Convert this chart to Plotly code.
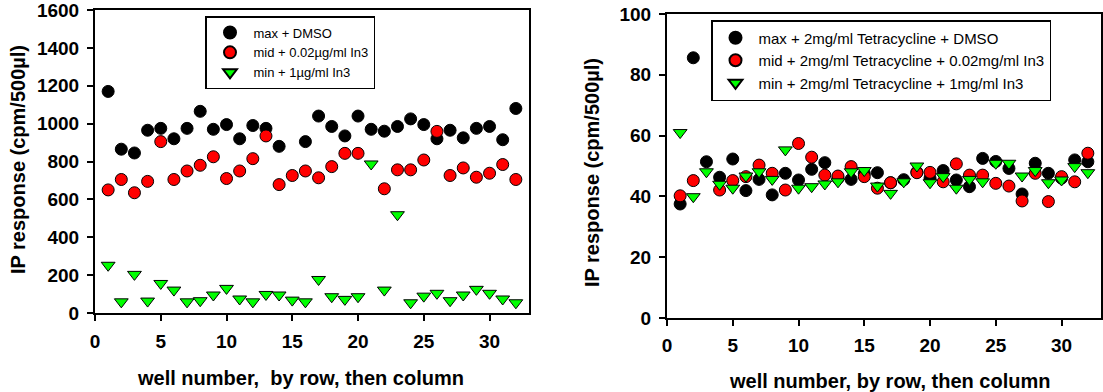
import plotly.graph_objects as go

wells = list(range(1, 33))

# Left panel: IP response (cpm/500µl)
max_dmso = [1170, 865, 845, 965, 975, 920, 975, 1065, 970, 995, 920, 990, 975, 880, None, 905,
            1040, 985, 935, 1040, 970, 960, 985, 1025, 995, 920, 965, 925, 975, 985, 915, 1080]
mid_in3 = [650, 705, 635, 695, 905, 705, 750, 780, 825, 710, 750, 815, 935, 678, 726, 750,
           714, 773, 843, 843, None, 656, 756, 756, 808, 959, 726, 766, 717, 738, 784, 705]
min_in3 = [252, 59, 204, 63, 156, 121, 59, 65, 95, 130, 74, 59, 98, 95, 68, 59,
           177, 86, 72, 86, 787, 121, 519, 54, 89, 104, 65, 95, 125, 104, 74, 54]

# Right panel: with 2mg/ml Tetracycline
max_tet = [37.5, 85.6, 51.4, 46.3, 52.3, 41.9, 45.6, 40.5, 47.6, 45.4, 48.9, 51.1, 46.0, 45.6, 47.5, 47.8,
           44.5, 45.5, 48.0, 46.0, 48.5, 45.4, 43.2, 52.5, 51.5, 49.2, 40.8, 50.9, 47.6, 46.0, 52.0, 51.4]
mid_tet = [40.2, 45.2, None, 42.1, 45.2, 46.5, 50.3, 47.6, 42.1, 57.4, 52.9, 47.0, 46.7, 49.8, 46.5, 42.7,
           44.5, None, 47.8, 47.9, 44.8, 50.7, 47.0, 47.0, 44.3, 43.4, 38.5, 47.6, 38.3, 46.5, 44.8, 54.2]
min_tet = [61.0, 39.9, 48.1, 44.0, 42.7, 46.7, 48.1, 45.6, 55.3, 42.7, 43.2, 44.1, 44.8, 48.1, 48.5, 43.4,
           41.0, 44.8, 50.0, 44.5, 46.5, 42.7, 45.6, 44.8, 50.9, 50.9, 46.7, 48.5, 44.5, 45.4, 49.8, 47.8]

left_names = ["max + DMSO", "mid + 0.02µg/ml In3", "min + 1µg/ml In3"]
right_names = ["max + 2mg/ml Tetracycline + DMSO",
               "mid + 2mg/ml Tetracycline + 0.02mg/ml In3",
               "min + 2mg/ml Tetracycline + 1mg/ml In3"]
x_ticks = [0, 5, 10, 15, 20, 25, 30]
left_yticks = [0, 200, 400, 600, 800, 1000, 1200, 1400, 1600]
right_yticks = [0, 20, 40, 60, 80, 100]
x_title_left = "well number,  by row, then column"
x_title_right = "well number, by row, then column"
y_title = "IP response (cpm/500µl)"

W, H = 1103, 392
FONT = "Liberation Sans, Arial, sans-serif"

styles = [
    dict(symbol="circle", color="#000000"),
    dict(symbol="circle", color="#FF0000"),
    dict(symbol="triangle-down", color="#00FF00"),
]

fig = go.Figure()
for vals, name, st in zip([max_dmso, mid_in3, min_in3], left_names, styles):
    fig.add_trace(go.Scatter(
        x=wells, y=vals, mode="markers", name=name, xaxis="x", yaxis="y",
        marker=dict(symbol=st["symbol"], color=st["color"], size=12,
                    line=dict(color="#000000", width=1)),
        legend="legend"))
for vals, name, st in zip([max_tet, mid_tet, min_tet], right_names, styles):
    fig.add_trace(go.Scatter(
        x=wells, y=vals, mode="markers", name=name, xaxis="x2", yaxis="y2",
        marker=dict(symbol=st["symbol"], color=st["color"], size=12,
                    line=dict(color="#000000", width=1)),
        legend="legend2"))

def px_x(p):
    return p / W

def px_y(p):
    return 1 - p / H

tickfont = dict(family=FONT, size=19, color="#000000", weight="bold")
axis_common = dict(
    showline=True, linecolor="#000000", linewidth=2, mirror=True,
    ticks="outside", ticklen=6, tickwidth=2, tickcolor="#000000",
    showgrid=False, zeroline=False, tickfont=tickfont, automargin=False,
    ticklabeloverflow="allow",
)

fig.update_layout(
    width=W, height=H,
    margin=dict(l=0, r=0, t=0, b=0, pad=0, autoexpand=False),
    paper_bgcolor="#FFFFFF", plot_bgcolor="#FFFFFF",
    font=dict(family=FONT, color="#000000"),
    xaxis=dict(domain=[px_x(95), px_x(529)], range=[0, 33], tickvals=x_ticks,
               anchor="y", ticklabelstandoff=4, **axis_common),
    yaxis=dict(domain=[px_y(313), px_y(10)], range=[0, 1600], tickvals=left_yticks,
               anchor="x", ticklabelstandoff=4, **axis_common),
    xaxis2=dict(domain=[px_x(667), px_x(1101)], range=[0, 33], tickvals=x_ticks,
                anchor="y2", ticklabelstandoff=3, **axis_common),
    yaxis2=dict(domain=[px_y(318), px_y(14)], range=[0, 100], tickvals=right_yticks,
                anchor="x2", ticklabelstandoff=4, **axis_common),
    legend=dict(x=px_x(205), y=px_y(16), xanchor="left", yanchor="top",
                bgcolor="#FFFFFF", bordercolor="#000000", borderwidth=1.5,
                font=dict(family=FONT, size=13, color="#000000"),
                tracegroupgap=0, itemsizing="constant", itemwidth=37),
    legend2=dict(x=px_x(711), y=px_y(20), xanchor="left", yanchor="top",
                 bgcolor="#FFFFFF", bordercolor="#000000", borderwidth=1.5,
                 font=dict(family=FONT, size=15, color="#000000"),
                 tracegroupgap=0, itemsizing="constant", itemwidth=36),
    showlegend=True,
)

title_font = dict(family=FONT, size=20, color="#000000", weight="bold")
fig.add_annotation(text=x_title_left, xref="paper", yref="paper",
                   x=px_x(300), y=px_y(378), showarrow=False, font=title_font,
                   xanchor="center", yanchor="middle")
fig.add_annotation(text=x_title_right, xref="paper", yref="paper",
                   x=px_x(889), y=px_y(381), showarrow=False, font=title_font,
                   xanchor="center", yanchor="middle")
fig.add_annotation(text=y_title, xref="paper", yref="paper",
                   x=px_x(18), y=px_y(160), showarrow=False, font=title_font,
                   textangle=-90, xanchor="center", yanchor="middle")
fig.add_annotation(text=y_title, xref="paper", yref="paper",
                   x=px_x(592), y=px_y(173), showarrow=False, font=title_font,
                   textangle=-90, xanchor="center", yanchor="middle")

fig.write_html("out.html", config={"displayModeBar": False},
               post_script="document.body.style.margin='0px';")
